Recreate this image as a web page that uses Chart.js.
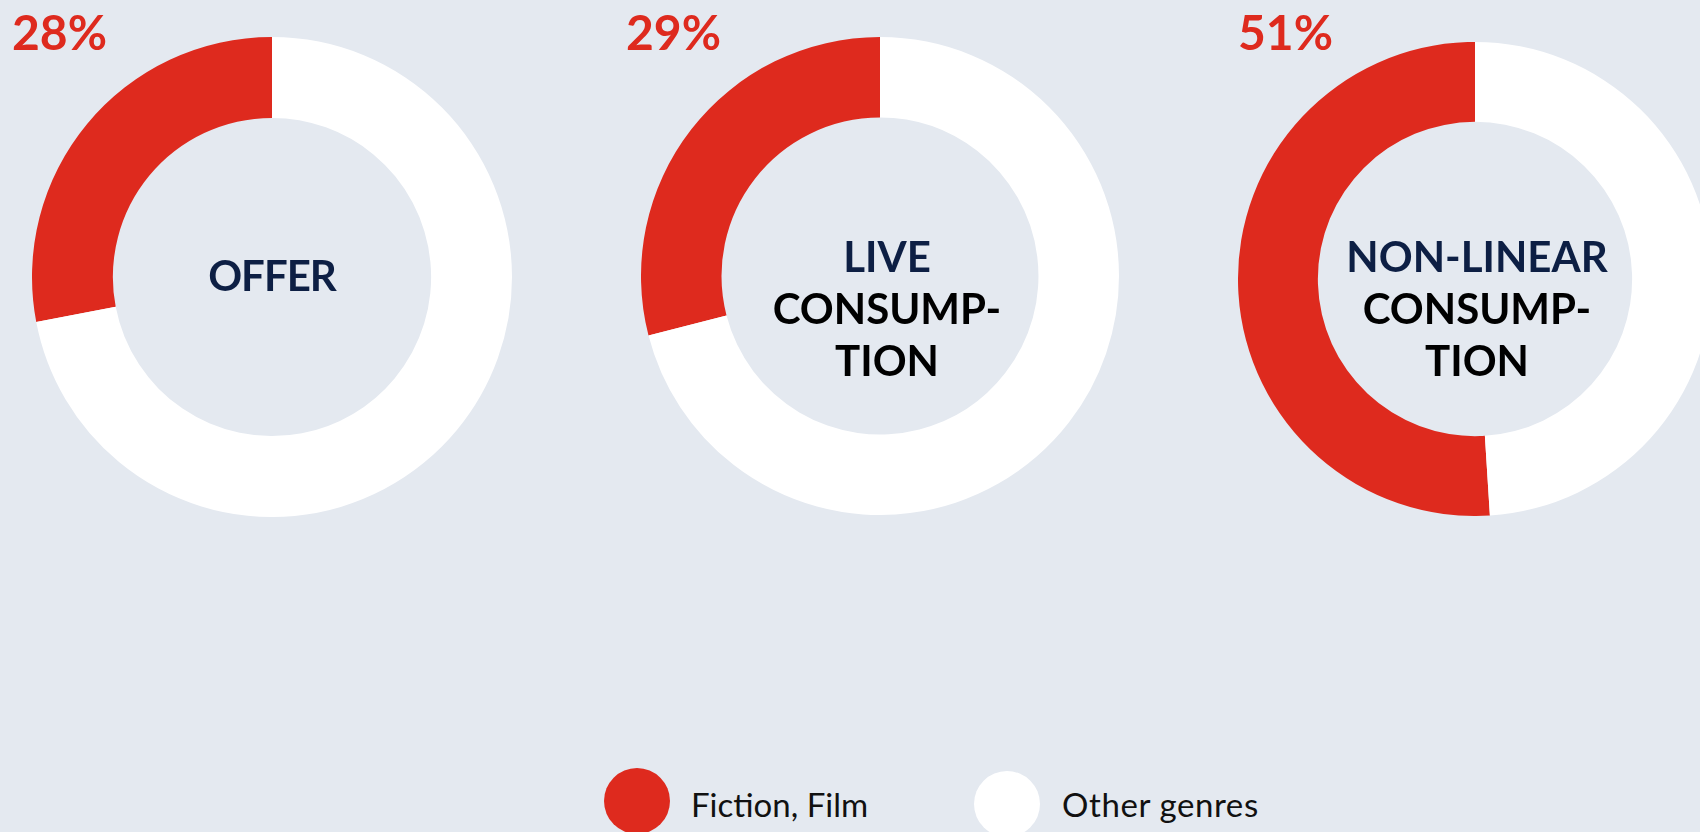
<!DOCTYPE html>
<html lang="en">
<head>
  <meta charset="UTF-8">
  <title>Fiction, Film share</title>
  <script src="https://cdn.jsdelivr.net/npm/chart.js"></script>
  <style>
    html, body {margin:0;padding:0}
    body {width:1700px;height:832px;background:#e4e9f0;position:relative;overflow:hidden;font-family:Lato, "Noto Sans", sans-serif}
    .donut {position:absolute}
    .pct {position:absolute;font-weight:700;font-size:48px;line-height:1;color:#de2a1e}
    .center {position:absolute;width:400px;text-align:center;font-weight:700;font-size:42px;line-height:52px;color:#000}
    .center .first {color:#0d1f44}
    .center .narrow {letter-spacing:-1px}
    .dot {position:absolute;width:66px;height:66px;border-radius:50%}
    .lbl {position:absolute;font-size:33px;line-height:1;color:#111;white-space:nowrap}
  </style>
</head>
<body>

<script>
const categories = ['Offer', 'Live consumption', 'Non-linear consumption'];
const fictionShare = [28, 29, 51];
const otherShare = [72, 71, 49];
const genreLabels = ['Fiction, Film', 'Other genres'];
const genreColors = ['#de2a1e', '#ffffff'];
const centerLines = [
  ['OFFER'],
  ['LIVE', 'CONSUMP-', 'TION'],
  ['NON-LINEAR', 'CONSUMP-', 'TION']
];

// donut placement (centre x, centre y, radius) and text placement
const donutBox = [
  {cx: 272, cy: 277, r: 240, tx: 272, ty: 249, px: 12, py: 8},
  {cx: 880, cy: 276, r: 239, tx: 887, ty: 230, px: 626, py: 8},
  {cx: 1475, cy: 279, r: 237, tx: 1477, ty: 230, px: 1238, py: 8}
];

categories.forEach((cat, i) => {
  const b = donutBox[i];
  const cv = document.createElement('canvas');
  cv.className = 'donut';
  cv.width = b.r * 2;
  cv.height = b.r * 2;
  cv.style.left = (b.cx - b.r) + 'px';
  cv.style.top = (b.cy - b.r) + 'px';
  document.body.appendChild(cv);

  new Chart(cv.getContext('2d'), {
    type: 'doughnut',
    data: {
      labels: genreLabels,
      datasets: [{
        data: [fictionShare[i], otherShare[i]],
        backgroundColor: genreColors,
        borderWidth: 0
      }]
    },
    options: {
      responsive: false,
      animation: false,
      cutout: '66.3%',
      // red share runs counter-clockwise from 12 o'clock
      rotation: -fictionShare[i] / (fictionShare[i] + otherShare[i]) * 360,
      layout: {padding: 0},
      plugins: {legend: {display: false}, tooltip: {enabled: false}, title: {display: false}}
    }
  });

  const pct = document.createElement('div');
  pct.className = 'pct';
  pct.style.left = b.px + 'px';
  pct.style.top = b.py + 'px';
  pct.textContent = fictionShare[i] + '%';
  document.body.appendChild(pct);

  const ct = document.createElement('div');
  ct.className = 'center';
  ct.style.left = (b.tx - 200) + 'px';
  ct.style.top = b.ty + 'px';
  ct.innerHTML = centerLines[i].map((t, k) =>
    `<div class="${k === 0 ? 'first' : ''} ${t === 'OFFER' ? 'narrow' : ''}">${t}</div>`
  ).join('');
  document.body.appendChild(ct);
});

// shared legend at the bottom
const legendPos = [{x: 637, y: 801, tx: 691, ls: 0}, {x: 1007, y: 804, tx: 1062, ls: 0.6}];
genreLabels.forEach((g, i) => {
  const p = legendPos[i];
  const d = document.createElement('div');
  d.className = 'dot';
  d.style.background = genreColors[i];
  d.style.left = (p.x - 33) + 'px';
  d.style.top = (p.y - 33) + 'px';
  document.body.appendChild(d);
  const l = document.createElement('div');
  l.className = 'lbl';
  l.style.left = p.tx + 'px';
  l.style.top = '788px';
  l.style.letterSpacing = p.ls + 'px';
  l.textContent = g;
  document.body.appendChild(l);
});
</script>
</body>
</html>
